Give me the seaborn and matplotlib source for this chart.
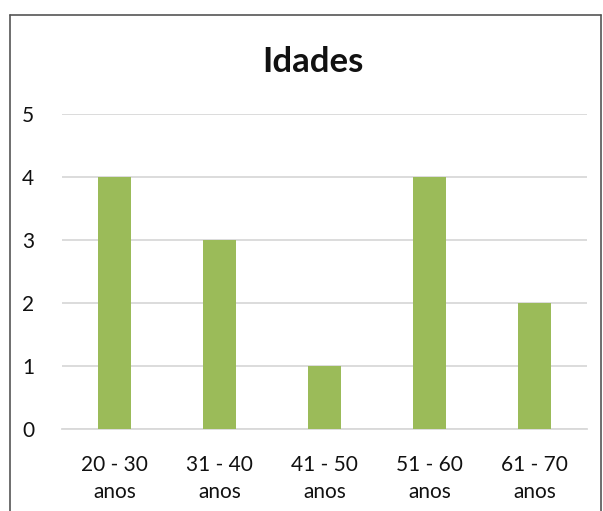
import matplotlib
matplotlib.use("Agg")
import matplotlib.pyplot as plt
import seaborn as sns
import pandas as pd
from matplotlib.lines import Line2D

categories = ["20 - 30\nanos", "31 - 40\nanos", "41 - 50\nanos", "51 - 60\nanos", "61 - 70\nanos"]
counts = [4, 3, 1, 4, 2]

sns.set_style("white")
plt.rcParams["font.family"] = ["Lato", "DejaVu Sans"]

df = pd.DataFrame({"faixa": categories, "n": counts})

fig = plt.figure(figsize=(6.03, 5.11), dpi=100)
ax = fig.add_axes([0.1028, 0.1605, 0.8706, 0.6164])

sns.barplot(data=df, x="faixa", y="n", color="#9BBB59", width=0.31,
            saturation=1, linewidth=0, ax=ax, zorder=3)

ax.set_ylim(0, 5)
ax.set_xlim(-0.5, 4.5)
ax.set_yticks(range(0, 6))
ax.yaxis.grid(True, color="#D9D9D9", linewidth=1.3, zorder=0)
ax.set_axisbelow(True)
for s in ["left", "right", "top"]:
    ax.spines[s].set_visible(False)
ax.spines["bottom"].set_color("#D9D9D9")
ax.spines["bottom"].set_linewidth(1.3)
ax.tick_params(axis="both", length=0, labelsize=15, colors="#111111")
ax.tick_params(axis="y", pad=20)
ax.tick_params(axis="x", pad=19)
for lbl in ax.get_xticklabels():
    lbl.set_linespacing(1.4)
ax.set_xlabel("")
ax.set_ylabel("")

fig.text(0.519, 0.879, "Idades", ha="center", va="center", fontsize=25,
         fontweight="bold", color="#111111")

# chart frame (left, top, right edges)
fw, fh = 603, 511
x0, x1, y1 = 10 / fw, 601 / fw, 1 - 15 / fh
for xs, ys in [([x0, x0], [0, y1]), ([x0, x1], [y1, y1]), ([x1, x1], [y1, 0])]:
    fig.add_artist(Line2D(xs, ys, color="#555555", linewidth=1.2, transform=fig.transFigure))

fig.savefig("out.png", dpi=100)
